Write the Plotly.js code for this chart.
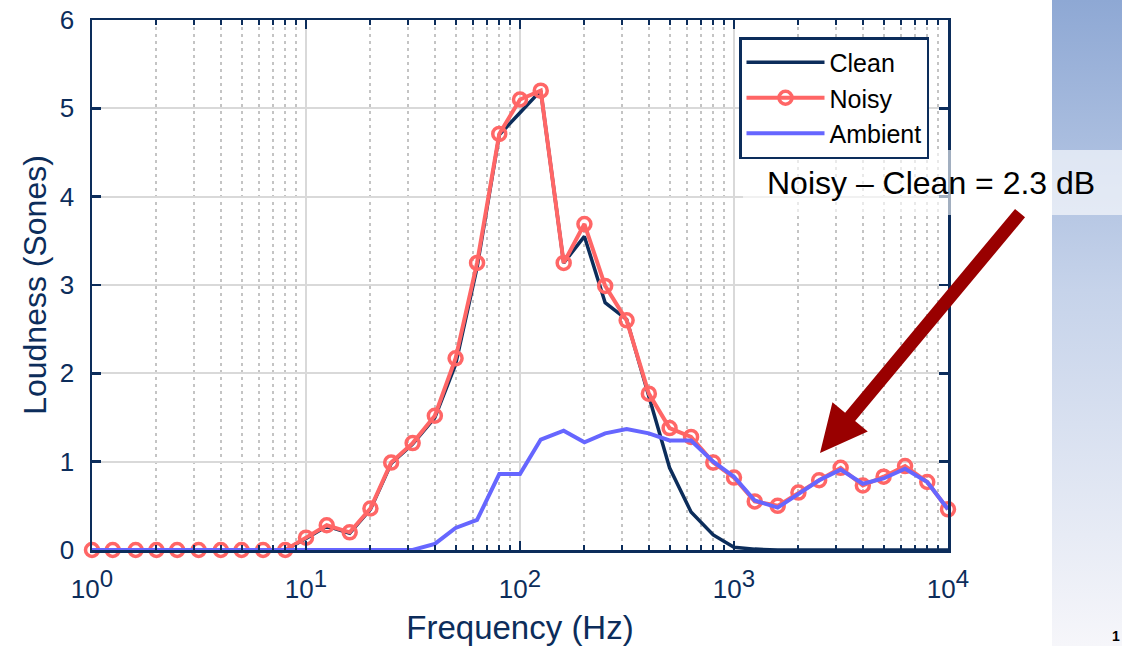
<!DOCTYPE html>
<html>
<head>
<meta charset="utf-8">
<script src="https://cdn.plot.ly/plotly-3.0.1.min.js"></script>
<style>
  html, body { margin: 0; padding: 0; background: #ffffff; }
  #wrap { position: relative; width: 1122px; height: 646px; overflow: hidden; }
  #panel { position: absolute; left: 1052px; top: 0; width: 70px; height: 646px;
           background: linear-gradient(#8ea8d4, #c6d3ea 45%, #f6f6fa); }
  #chart { position: absolute; left: 0; top: 0; width: 1122px; height: 646px; }
</style>
</head>
<body>
<div id="wrap"><div id="panel"></div><div id="chart"></div></div>
<script>
// 1/3-octave band centre frequencies (Hz)
const freq = [1, 1.25, 1.6, 2, 2.5, 3.15, 4, 5, 6.3, 8,
  10, 12.5, 16, 20, 25, 31.5, 40, 50, 63, 80,
  100, 125, 160, 200, 250, 315, 400, 500, 630, 800,
  1000, 1250, 1600, 2000, 2500, 3150, 4000, 5000, 6300, 8000, 10000];

// Loudness (Sones)
const clean = [0, 0, 0, 0, 0, 0, 0, 0, 0, 0,
  0.13, 0.27, 0.19, 0.46, 0.98, 1.2, 1.5, 2.1, 3.2, 4.7,
  4.95, 5.2, 3.25, 3.55, 2.8, 2.61, 1.74, 0.93, 0.43, 0.17,
  0.03, 0.01, 0, 0, 0, 0, 0, 0, 0, 0, 0];

const noisy = [0, 0, 0, 0, 0, 0, 0, 0, 0, 0,
  0.14, 0.28, 0.2, 0.47, 0.99, 1.21, 1.52, 2.17, 3.25, 4.71,
  5.1, 5.2, 3.25, 3.69, 2.99, 2.6, 1.77, 1.38, 1.28, 0.99,
  0.82, 0.55, 0.5, 0.65, 0.79, 0.93, 0.73, 0.83, 0.95, 0.77, 0.46];

const ambient = [0, 0, 0, 0, 0, 0, 0, 0, 0, 0,
  0, 0, 0, 0, 0, 0, 0.07, 0.25, 0.34, 0.86,
  0.86, 1.25, 1.35, 1.22, 1.32, 1.37, 1.32, 1.24, 1.24, 1.0,
  0.83, 0.56, 0.48, 0.64, 0.79, 0.91, 0.75, 0.81, 0.92, 0.77, 0.46];

const seriesNames = ['Clean', 'Noisy', 'Ambient'];
const xTickVals = [1, 10, 100, 1000, 10000];
const xTickExp = ['0', '1', '2', '3', '4'];
const annotationText = 'Noisy \u2013 Clean = 2.3 dB';

const NAVY = '#0c2d5b';
const FONT = '"Liberation Sans", Arial, sans-serif';
const W = 1122, H = 646;
const M = {l: 92, r: 174, t: 20, b: 96};
const PW = W - M.l - M.r, PH = H - M.t - M.b;
function px(x) { return (x - M.l) / PW; }
function py(y) { return (H - M.b - y) / PH; }

const xTickText = xTickExp.map(e => '10<sup><span style="font-size:24px">' + e + '</span></sup>');

const traces = [
  {x: freq, y: clean, name: seriesNames[0], type: 'scatter', mode: 'lines',
   line: {color: NAVY, width: 3.5}, cliponaxis: false},
  {x: freq, y: noisy, name: seriesNames[1], type: 'scatter', mode: 'lines+markers',
   line: {color: '#ff6666', width: 4},
   marker: {symbol: 'circle-open', size: 13, color: '#ff6666', line: {width: 3.5, color: '#ff6666'}},
   cliponaxis: false},
  {x: freq, y: ambient, name: seriesNames[2], type: 'scatter', mode: 'lines',
   line: {color: '#6666ff', width: 4}, cliponaxis: false}
];

// arrow polygon (block arrow), pixel points converted to paper coords
const arrowPts = [[820, 453], [867.8, 431.6], [855.1, 421.1], [1025, 217.3],
                  [1015, 208.9], [845.1, 412.7], [832.4, 402.2]];
const arrowPath = 'M' + arrowPts.map(p => px(p[0]).toFixed(4) + ',' + py(p[1]).toFixed(4)).join(' L') + ' Z';

const layout = {
  width: W, height: H,
  margin: M,
  paper_bgcolor: 'rgba(0,0,0,0)',
  plot_bgcolor: '#ffffff',
  font: {family: FONT, color: NAVY},
  showlegend: true,
  legend: {
    x: px(929), y: py(37), xanchor: 'right', yanchor: 'top',
    bgcolor: '#ffffff', bordercolor: NAVY, borderwidth: 2.5,
    font: {size: 25, color: '#000000', family: FONT},
    itemwidth: 78,
    tracegroupgap: 0
  },
  xaxis: {
    type: 'log', range: [0, 4],
    tickmode: 'array', tickvals: xTickVals, ticktext: xTickText,
    ticks: 'inside', ticklen: 9, tickwidth: 2.5, tickcolor: NAVY,
    showline: true, linecolor: NAVY, linewidth: 2.5, mirror: 'ticks',
    showgrid: true, gridcolor: '#d9d9d9', gridwidth: 2,
    minor: {dtick: 'D1', ticks: 'inside', ticklen: 5, tickwidth: 2, tickcolor: NAVY,
            showgrid: true, gridcolor: '#c4c4c4', gridwidth: 2, griddash: '3px,4px'},
    tickfont: {size: 26, color: NAVY},
    ticklabelstandoff: 14,
    zeroline: false,
    title: {text: 'Frequency (Hz)', font: {size: 33, color: NAVY}, standoff: 29}
  },
  yaxis: {
    range: [0, 6], dtick: 1,
    ticks: 'inside', ticklen: 9, tickwidth: 2.5, tickcolor: NAVY,
    showline: true, linecolor: NAVY, linewidth: 2.5, mirror: 'ticks',
    showgrid: true, gridcolor: '#d9d9d9', gridwidth: 2,
    tickfont: {size: 26, color: NAVY},
    ticklabelstandoff: 10,
    zeroline: false,
    title: {text: 'Loudness (Sones)', font: {size: 32, color: NAVY}, standoff: 4}
  },
  shapes: [
    {type: 'rect', xref: 'paper', yref: 'paper', layer: 'above',
     x0: px(743), x1: px(1125), y0: py(215), y1: py(150),
     fillcolor: 'rgba(255,255,255,0.62)', line: {width: 0}},
    {type: 'path', xref: 'paper', yref: 'paper', layer: 'above',
     path: arrowPath, fillcolor: '#990000', line: {width: 0}}
  ],
  annotations: [
    {xref: 'paper', yref: 'paper', x: px(931), y: py(183), xanchor: 'center', yanchor: 'middle',
     text: annotationText, showarrow: false,
     font: {family: FONT, size: 32, color: '#000000'}},
    {xref: 'paper', yref: 'paper', x: px(1116), y: py(636), xanchor: 'center', yanchor: 'middle',
     text: '<b>1</b>', showarrow: false,
     font: {family: FONT, size: 14, color: '#000000'}}
  ]
};

Plotly.newPlot('chart', traces, layout, {displayModeBar: false, staticPlot: true});
</script>
</body>
</html>
